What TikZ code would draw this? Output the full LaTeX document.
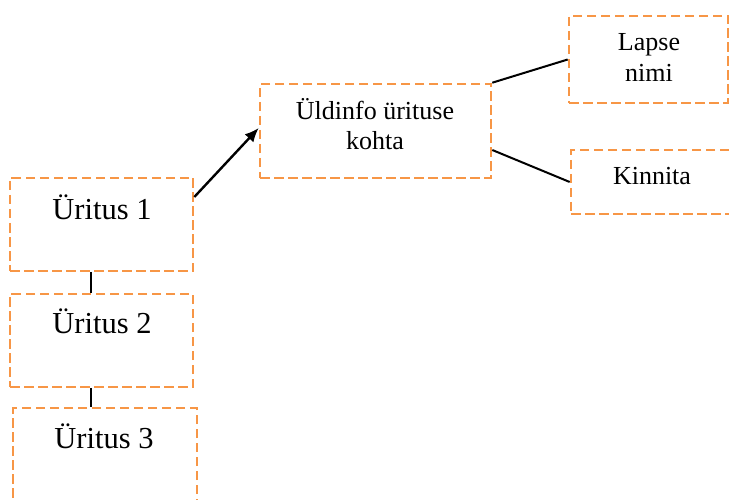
\documentclass[tikz,border=0pt]{standalone}
\usepackage{fontspec}
\setmainfont{Liberation Serif}
\usetikzlibrary{arrows.meta}
\definecolor{dashorange}{HTML}{F79646}
\tikzset{
  dbox/.style={draw=dashorange, line width=2.6pt, dash pattern=on 9.5pt off 4.5pt,
    rectangle, inner sep=0pt},
  bigtext/.style={font=\fontsize{30.5}{35}\selectfont, inner sep=0pt},
  smalltext/.style={font=\fontsize{26}{31}\selectfont, inner sep=0pt, align=center},
  link/.style={draw=black, line width=2pt},
  pointer/.style={draw=black, line width=2.4pt, -{Latex[length=14pt,width=12pt]}}
}
\begin{document}
\begin{tikzpicture}[x=1pt, y=-1pt]
  \useasboundingbox (0,0) rectangle (729,500);

  % event boxes on the left
  \node[dbox, minimum width=183pt, minimum height=93pt] (u1) at (101.5,224.5) {};
  \node[dbox, minimum width=183pt, minimum height=93pt] (u2) at (101.5,340.5) {};
  \node[dbox, minimum width=184pt, minimum height=112pt] (u3) at (105,464) {};
  \node[bigtext, anchor=base] (t1) at (102,219) {Üritus 1};
  \node[bigtext, anchor=base] (t2) at (102,333) {Üritus 2};
  \node[bigtext, anchor=base] (t3) at (104,448) {Üritus 3};

  % general information box (base anchor = baseline of the last line)
  \node[dbox, minimum width=231pt, minimum height=94pt] (info) at (375.5,131) {};
  \node[smalltext, anchor=base] (tinfo) at (375,150) {Üldinfo ürituse\\kohta};

  % detail boxes on the right
  \node[dbox, minimum width=159pt, minimum height=87pt] (lapse) at (648.5,59.5) {};
  \node[smalltext, anchor=base] (tlapse) at (649,82) {Lapse\\nimi};
  \node[dbox, minimum width=159pt, minimum height=64pt] (kinnita) at (650.5,182) {};
  \node[smalltext, anchor=base] (tkinnita) at (652,185) {Kinnita};

  % connectors
  \draw[link] ([xshift=-10.5pt]u1.south) -- ([xshift=-10.5pt]u2.north);
  \draw[link] ([xshift=-10.5pt]u2.south) -- ([xshift=-14pt]u3.north);
  \draw[pointer] ([yshift=27.5pt]u1.east) -- ([yshift=3pt]info.west);
  \draw[link] (info.north east) -- (lapse.west);
  \draw[link] ([yshift=-19pt]info.east) -- (kinnita.west);
\end{tikzpicture}
\end{document}
